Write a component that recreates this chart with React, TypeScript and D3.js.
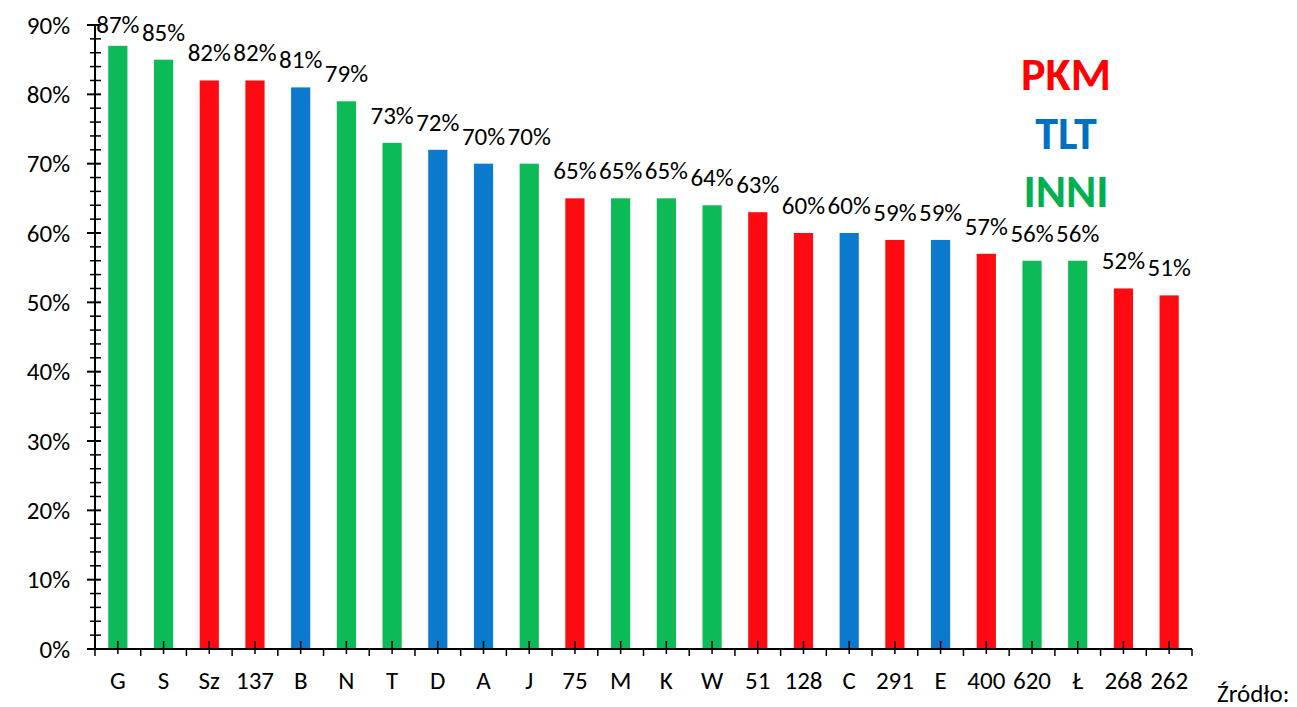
import React from "react";
import * as d3 from "d3";

const categories = ["G","S","Sz","137","B","N","T","D","A","J","75","M","K","W","51","128","C","291","E","400","620","Ł","268","262"];
const values = [87,85,82,82,81,79,73,72,70,70,65,65,65,64,63,60,60,59,59,57,56,56,52,51];
const groups = ["INNI","INNI","PKM","PKM","TLT","INNI","INNI","TLT","TLT","INNI","PKM","INNI","INNI","INNI","PKM","PKM","TLT","PKM","TLT","PKM","INNI","INNI","PKM","PKM"];
const legendItems = ["PKM","TLT","INNI"];
const yTicks = [0,10,20,30,40,50,60,70,80,90];
const colors: Record<string,string> = { PKM: "#FF0000", TLT: "#0070C0", INNI: "#00B050" };
const barColors: Record<string,string> = { PKM: "#FF0A12", TLT: "#0B7ACC", INNI: "#0CBA58" };

const W = 1297, H = 707;
const left = 95, right = 1192, top = 25, bottom = 649;
const FONT = "Calibri, Carlito, 'Open Sans', 'Noto Sans', sans-serif";

export default function App() {
  const x = d3.scaleBand<string>().domain(categories).range([left, right]).paddingInner(0).paddingOuter(0);
  const y = d3.scaleLinear().domain([0, 90]).range([bottom, top]);
  const bw = x.bandwidth() * 0.42;
  const minor = d3.range(0, 90, 2).filter(v => v % 10 !== 0);
  const boundaries = categories.map(c => x(c) as number).concat([right]);
  return (
    <svg width={W} height={H} style={{ position: "absolute", left: 0, top: 0, background: "#fff" }} fontFamily={FONT}>
      {categories.map((c, i) => (
        <rect key={c} x={(x(c) as number) + x.bandwidth() / 2 - bw / 2} y={y(values[i])} width={bw} height={bottom - y(values[i])} fill={barColors[groups[i]]} />
      ))}
      {/* y axis */}
      <line x1={left} x2={left} y1={top} y2={bottom} stroke="#000" strokeWidth={2} />
      {yTicks.map(t => (
        <g key={t}>
          <line x1={left - 8} x2={left + 6} y1={y(t)} y2={y(t)} stroke="#000" strokeWidth={2} />
          <text x={70} y={y(t)} dy="0.35em" textAnchor="end" fontSize={25}>{t}%</text>
        </g>
      ))}
      {minor.map(t => (
        <line key={t} x1={left - 5} x2={left + 6} y1={y(t)} y2={y(t)} stroke="#000" strokeWidth={1.5} />
      ))}
      {/* x axis */}
      <line x1={left} x2={right} y1={bottom} y2={bottom} stroke="#000" strokeWidth={2} />
      {boundaries.map((b, i) => (
        <line key={"b" + i} x1={b} x2={b} y1={bottom} y2={bottom + 7} stroke="#000" strokeWidth={1.5} />
      ))}
      {categories.map(c => {
        const cx = (x(c) as number) + x.bandwidth() / 2;
        return <line key={"m" + c} x1={cx} x2={cx} y1={bottom - 8} y2={bottom + 5} stroke="#000" strokeWidth={1.5} />;
      })}
      {categories.map(c => (
        <text key={"l" + c} x={(x(c) as number) + x.bandwidth() / 2} y={689} textAnchor="middle" fontSize={25}>{c}</text>
      ))}
      {categories.map((c, i) => (
        <text key={"v" + c} x={(x(c) as number) + x.bandwidth() / 2} y={Math.max(33, y(values[i]) - 19)} textAnchor="middle" fontSize={25}>{values[i]}%</text>
      ))}
      {legendItems.map((g, i) => (
        <text key={g} x={1066} y={90 + i * 58.5} textAnchor="middle" fontSize={46} fontWeight="bold" fill={colors[g]}>{g}</text>
      ))}
      <text x={1217} y={702} fontSize={25}>Źródło:</text>
    </svg>
  );
}
